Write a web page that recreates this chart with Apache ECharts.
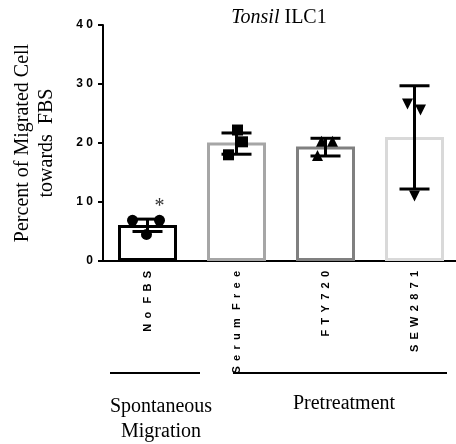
<!DOCTYPE html>
<html>
<head>
<meta charset="utf-8">
<script src="https://cdn.jsdelivr.net/npm/echarts@6/dist/echarts.min.js"></script>
<style>
  html, body { margin: 0; padding: 0; background: #fff; }
  #chartBox { width: 456px; height: 444px; }
</style>
</head>
<body>
<div id="chartBox"></div>
<script>
// 数据
var categories = ['No FBS', 'Serum Free', 'FTY720', 'SEW2871'];
var means = [6.1, 20.1, 19.4, 21.0];
var errLow = [5.0, 18.1, 17.8, 12.2];
var errHigh = [7.1, 21.7, 20.8, 29.7];
var replicates = [
  [6.9, 6.9, 4.5],
  [22.2, 20.2, 18.0],
  [20.3, 20.3, 17.9],
  [26.6, 25.6, 11.0]
];
var significance = ['*', '', '', ''];
var yMin = 0, yMax = 40, yStep = 10;

// 样式
var borderColors = ['#000000', '#a6a6a6', '#808080', '#d9d9d9'];
var symbols = ['circle', 'rect', 'triangle', 'triangle'];
var symbolRotates = [0, 0, 0, 180];
var jitter = [[-15, 12, -1], [1, 6, -8], [-4, 7, -8], [-7, 6, 0]];
var serif = '"Liberation Serif", "Times New Roman", serif';
var sans = '"Liberation Sans", Arial, sans-serif';

function spaced(s) {
  return s.split(' ').map(function (w) { return w.split('').join(' \u2009'); }).join('  \u2009');
}

var chart = echarts.init(document.getElementById('chartBox'));

var pointData = [];
replicates.forEach(function (vals, i) {
  vals.forEach(function (v, k) {
    pointData.push({
      value: [i, v],
      symbol: symbols[i],
      symbolRotate: symbolRotates[i],
      symbolOffset: [jitter[i][k], 0]
    });
  });
});

var option = {
  animation: false,
  title: {
    text: '{i|Tonsil} ILC1',
    left: 274,
    top: 3,
    textAlign: 'center',
    textStyle: {
      fontFamily: serif, fontSize: 20, fontWeight: 'normal', color: '#000',
      rich: { i: { fontFamily: serif, fontSize: 20, fontStyle: 'italic', color: '#000' } }
    }
  },
  grid: { left: 103, right: -3, top: 25, bottom: 183, outerBoundsMode: 'none', containLabel: false },
  xAxis: {
    type: 'category',
    data: categories,
    axisLine: { lineStyle: { color: '#000', width: 2 } },
    axisTick: { alignWithLabel: true, length: 6, lineStyle: { color: '#000', width: 2 } },
    axisLabel: {
      rotate: 90, margin: 10, color: '#000',
      fontFamily: sans, fontSize: 11, fontWeight: 'bold',
      formatter: spaced
    }
  },
  yAxis: {
    type: 'value',
    min: yMin, max: yMax, interval: yStep,
    name: 'Percent of Migrated Cell\ntowards  FBS',
    nameLocation: 'middle',
    nameRotate: 90,
    nameGap: 44,
    nameTextStyle: { fontFamily: serif, fontSize: 20, color: '#000', lineHeight: 24 },
    axisLine: { show: true, lineStyle: { color: '#000', width: 2 } },
    axisTick: { show: true, length: 5, lineStyle: { color: '#000', width: 2 } },
    splitLine: { show: false },
    axisLabel: {
      margin: 10, color: '#000',
      fontFamily: sans, fontSize: 12, fontWeight: 'bold',
      formatter: function (v) { return String(v).split('').join(' '); }
    }
  },
  series: [
    {
      type: 'bar',
      barWidth: 59,
      data: means.map(function (v, i) {
        return { value: v, itemStyle: { color: '#fff', borderColor: borderColors[i], borderWidth: 3 } };
      }),
      z: 2
    },
    {
      type: 'custom',
      data: categories.map(function (c, i) { return [i, errLow[i], errHigh[i]]; }),
      renderItem: function (params, api) {
        var i = api.value(0);
        var lo = api.coord([i, api.value(1)]);
        var hi = api.coord([i, api.value(2)]);
        var half = 15;
        var st = { stroke: '#000', lineWidth: 3 };
        var children = [
          { type: 'line', shape: { x1: lo[0], y1: lo[1], x2: hi[0], y2: hi[1] }, style: st },
          { type: 'line', shape: { x1: lo[0] - half, y1: lo[1], x2: lo[0] + half, y2: lo[1] }, style: st },
          { type: 'line', shape: { x1: hi[0] - half, y1: hi[1], x2: hi[0] + half, y2: hi[1] }, style: st }
        ];
        if (significance[i]) {
          children.push({
            type: 'text', x: hi[0] + 12, y: hi[1] - 22,
            style: { text: significance[i], font: '20px ' + serif, fill: '#333', align: 'center', verticalAlign: 'top' }
          });
        }
        return { type: 'group', children: children };
      },
      z: 3
    },
    {
      type: 'scatter',
      symbolSize: 11,
      itemStyle: { color: '#000', opacity: 1 },
      data: pointData,
      z: 4
    }
  ],
  graphic: [
    { type: 'line', shape: { x1: 110, y1: 373, x2: 200, y2: 373 }, style: { stroke: '#000', lineWidth: 2 } },
    { type: 'line', shape: { x1: 233, y1: 373, x2: 447, y2: 373 }, style: { stroke: '#000', lineWidth: 2 } },
    { type: 'text', x: 161, y: 394, style: { text: 'Spontaneous\nMigration', font: '20px ' + serif, fill: '#000', align: 'center', lineHeight: 25 } },
    { type: 'text', x: 344, y: 394, style: { text: 'Pretreatment', font: '20px ' + serif, fill: '#000', align: 'center' } }
  ]
};

chart.setOption(option);
</script>
</body>
</html>
